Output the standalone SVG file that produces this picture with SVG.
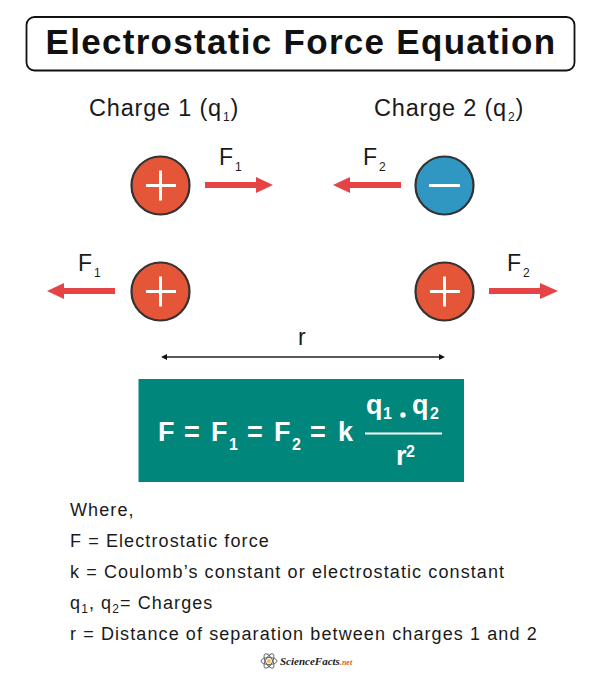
<svg xmlns="http://www.w3.org/2000/svg" width="600" height="677" viewBox="0 0 600 677">
<style>
text{font-family:"Liberation Sans",Arial,sans-serif;fill:#1a1a1a}
.h{font-size:23.500px;letter-spacing:.8px}
.f{font-size:23px}
.s{font-size:12px}
.w{font-size:18px;letter-spacing:1.100px}
.e{fill:#fff;font-weight:700;font-size:27px}
.es{fill:#fff;font-weight:700;font-size:16px}
.pos{fill:#e55537;stroke:#333;stroke-width:2.200}
.neg{fill:#3097c2;stroke:#333;stroke-width:2.200}
.sign{stroke:#fff;stroke-width:3;fill:none}
.arrow{fill:#e64346}
</style>
<rect width="600" height="677" fill="#fff"/>
<g id="title">
<rect x="26.500" y="17" width="548" height="53.500" rx="8" fill="#fff" stroke="#111" stroke-width="1.800"/>
<text x="301" y="54" text-anchor="middle" style="font-size:35px;font-weight:700;letter-spacing:1.300px;fill:#111">Electrostatic Force Equation</text>
</g>
<g id="label-charge1"><text x="89" y="116" class="h">Charge 1 (q<tspan class="s" dx="1" dy="5">1</tspan><tspan dy="-5">)</tspan></text></g>
<g id="label-charge2"><text x="374" y="116" class="h">Charge 2 (q<tspan class="s" dx="1" dy="5">2</tspan><tspan dy="-5">)</tspan></text></g>
<g id="node-top-left">
<circle cx="160.500" cy="185.500" r="29" class="pos"/>
<path d="M146 185.500H176M160.500 170.500V200.500" class="sign"/>
</g>
<g id="node-top-right">
<circle cx="444.500" cy="185.500" r="29" class="neg"/>
<path d="M429 185.500H460" class="sign"/>
</g>
<g id="node-bottom-left">
<circle cx="160.500" cy="291.500" r="29" class="pos"/>
<path d="M146 291.500H176M160.500 276.500V306.500" class="sign"/>
</g>
<g id="node-bottom-right">
<circle cx="444.500" cy="291.500" r="29" class="pos"/>
<path d="M430 291.500H460M444.500 276.500V306.500" class="sign"/>
</g>
<g id="connectors">
<path class="arrow" d="M205 182H256V177L273 185L256 193V188H205Z"/>
<path class="arrow" d="M401 182H350V177L333 185L350 193V188H401Z"/>
<path class="arrow" d="M115 288H64V283L47 291L64 299V294H115Z"/>
<path class="arrow" d="M489 288H540V283L558 291L540 299V294H489Z"/>
<path d="M165 357H441" stroke="#222" stroke-width="1.300"/>
<path d="M161 357L167 354V360ZM445 357L439 354V360Z" fill="#111"/>
</g>
<g id="force-labels">
<text x="219" y="165" class="f">F<tspan class="s" dx="2" dy="6">1</tspan></text>
<text x="363" y="165" class="f">F<tspan class="s" dx="2" dy="6">2</tspan></text>
<text x="78" y="271" class="f">F<tspan class="s" dx="2" dy="6">1</tspan></text>
<text x="507" y="271" class="f">F<tspan class="s" dx="2" dy="6">2</tspan></text>
<text x="298" y="345" class="f">r</text>
</g>
<g id="equation">
<rect x="138.500" y="379" width="325.500" height="103" fill="#00867b"/>
<text x="158" y="441" class="e">F</text>
<text x="184" y="441" class="e">=</text>
<text x="211" y="441" class="e">F</text>
<text x="229" y="450" class="es">1</text>
<text x="247" y="441" class="e">=</text>
<text x="274" y="441" class="e">F</text>
<text x="292" y="450" class="es">2</text>
<text x="310" y="441" class="e">=</text>
<text x="338" y="441" class="e">k</text>
<text x="366" y="414" class="e">q</text>
<text x="383" y="419" class="es">1</text>
<circle cx="403" cy="415" r="2.700" fill="#fff"/>
<text x="412" y="414" class="e">q</text>
<text x="430" y="419" class="es">2</text>
<rect x="365" y="432.500" width="77" height="2" fill="#fff"/>
<text x="396" y="465" class="e">r</text>
<text x="406" y="457" class="es">2</text>
</g>
<g id="legend">
<text x="70" y="516" class="w">Where,</text>
<text x="70" y="547" class="w">F = Electrostatic force</text>
<text x="70" y="578" class="w">k = Coulomb’s constant or electrostatic constant</text>
<text x="70" y="609" class="w">q<tspan class="s" dy="4">1</tspan><tspan dy="-4">, q</tspan><tspan class="s" dy="4">2</tspan><tspan dy="-4">= Charges</tspan></text>
<text x="70" y="640" class="w">r = Distance of separation between charges 1 and 2</text>
</g>
<g id="logo">
<g fill="none" stroke="#666" stroke-width="1">
<ellipse cx="269" cy="661" rx="8" ry="3.500" transform="rotate(60 269 661)"/>
<ellipse cx="269" cy="661" rx="8" ry="3.500" transform="rotate(-60 269 661)"/>
<ellipse cx="269" cy="661" rx="8" ry="3.500"/>
</g>
<circle cx="269" cy="661" r="2" fill="#f2c230"/>
<text x="280" y="665" style="font-family:'Liberation Serif',serif;font-size:11px;font-weight:700;font-style:italic;fill:#222">ScienceFacts<tspan style="fill:#e55537;font-size:8px">.net</tspan></text>
</g>
</svg>
